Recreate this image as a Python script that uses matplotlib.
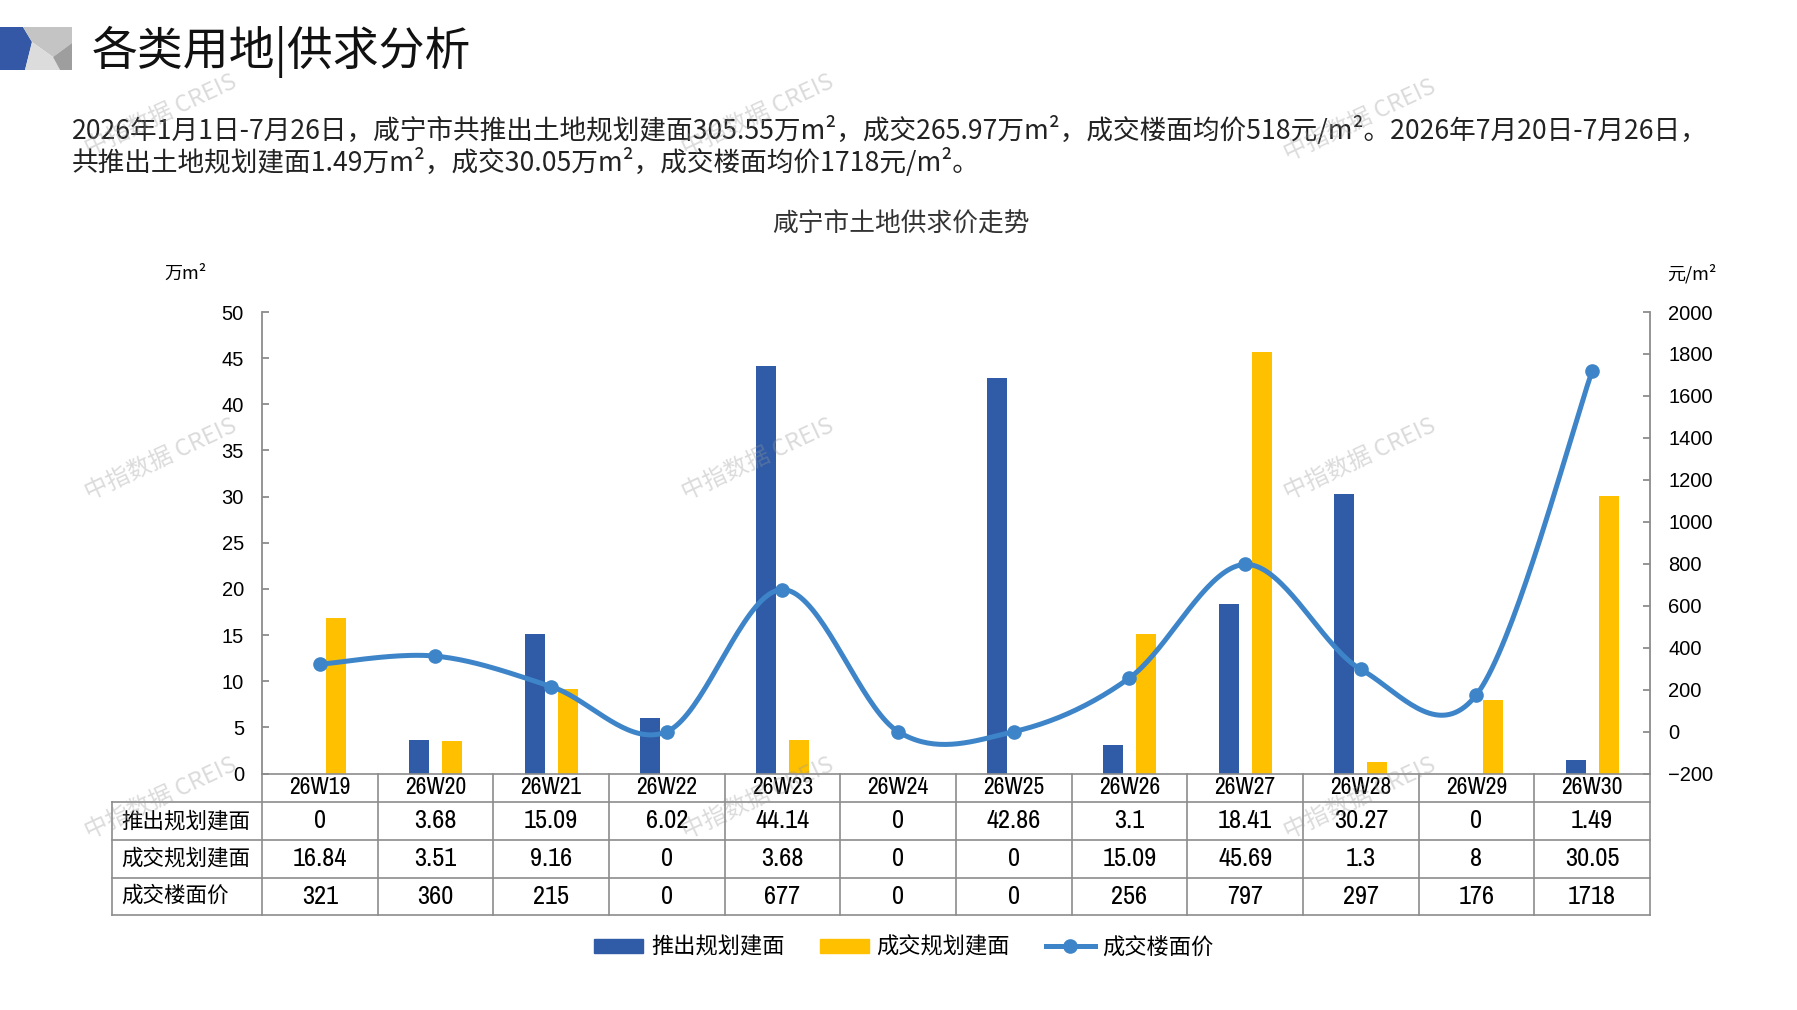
import numpy as np
import matplotlib
matplotlib.use("Agg")
import matplotlib.pyplot as plt
import matplotlib.transforms as mtransforms
from matplotlib import font_manager
from matplotlib.patches import Polygon, Patch
from matplotlib.lines import Line2D

# data
weeks = ["26W19", "26W20", "26W21", "26W22", "26W23", "26W24",
         "26W25", "26W26", "26W27", "26W28", "26W29", "26W30"]
supply = [0, 3.68, 15.09, 6.02, 44.14, 0, 42.86, 3.1, 18.41, 30.27, 0, 1.49]
deal = [16.84, 3.51, 9.16, 0, 3.68, 0, 0, 15.09, 45.69, 1.3, 8, 30.05]
price = [321, 360, 215, 0, 677, 0, 0, 256, 797, 297, 176, 1718]
row_names = ["推出规划建面", "成交规划建面", "成交楼面价"]
left_ticks = np.arange(0, 51, 5)
right_ticks = np.arange(-200, 2001, 200)

BLUE = "#2F5BA7"
YELLOW = "#FFC000"
LINE = "#3D85C8"
GRID = "#8C8C8C"

names = sorted({f.name for f in font_manager.fontManager.ttflist})
narrow_fonts = [n for n in names if "Narrow" in n or "Condensed" in n]
NARROW = narrow_fonts[0] if narrow_fonts else "Liberation Sans"
NUM_SIZE = 19 if narrow_fonts else 17
CJK = ["Noto Sans CJK SC", "DejaVu Sans"]
plt.rcParams["font.family"] = CJK


def smooth(xs, ys, n=40):
    # excel-like smoothed line (catmull-rom bezier)
    p = np.column_stack([xs, ys]).astype(float)
    out = []
    for i in range(len(p) - 1):
        p0 = p[i - 1] if i > 0 else p[i]
        p1, p2 = p[i], p[i + 1]
        p3 = p[i + 2] if i + 2 < len(p) else p[i + 1]
        c1 = p1 + (p2 - p0) / 6
        c2 = p2 - (p3 - p1) / 6
        t = np.linspace(0, 1, n)[:, None]
        seg = (1 - t) ** 3 * p1 + 3 * (1 - t) ** 2 * t * c1 + 3 * (1 - t) * t ** 2 * c2 + t ** 3 * p2
        out.append(seg if i == 0 else seg[1:])
    out = np.vstack(out)
    return out[:, 0], out[:, 1]


W, H = 1797, 1010
fig = plt.figure(figsize=(W / 100, H / 100), dpi=100)

ax_l, ax_r, ax_t, ax_b = 262, 1650, 312, 773.6
ax = fig.add_axes([ax_l / W, 1 - ax_b / H, (ax_r - ax_l) / W, (ax_b - ax_t) / H])
ax2 = ax.twinx()

x = np.arange(len(weeks))
ax.bar(x - 0.142, supply, 0.173, color=BLUE, zorder=2)
ax.bar(x + 0.142, deal, 0.173, color=YELLOW, zorder=2)
sx, sy = smooth(x, price)
ax2.plot(sx, sy, color=LINE, lw=3.6, solid_capstyle="round", zorder=3)
ax2.plot(x, price, "o", ms=9.5, color=LINE, zorder=4)

ax.set_xlim(-0.5, len(weeks) - 0.5)
ax.set_ylim(0, 50)
ax2.set_ylim(-200, 2000)
ax.set_xticks([])
ax.set_yticks(left_ticks)
ax2.set_yticks(right_ticks)

for a in (ax, ax2):
    for s in a.spines.values():
        s.set_visible(False)
    a.tick_params(axis="y", direction="in", length=5, width=1.3, color=GRID,
                  labelsize=14.5, pad=13)
    for lab in a.get_yticklabels():
        lab.set_fontfamily("Liberation Sans")
ax.spines["left"].set_visible(True)
ax.spines["left"].set_color(GRID)
ax.spines["left"].set_linewidth(1.3)
ax2.spines["right"].set_visible(True)
ax2.spines["right"].set_color(GRID)
ax2.spines["right"].set_linewidth(1.3)

# data table under the plot
trans = mtransforms.blended_transform_factory(ax.transData, ax.transAxes)
ah = ax_b - ax_t
rows_px = [773.6, 802, 840, 877.5, 914.5]
ry = [(ax_b - v) / ah for v in rows_px]
lab_left = -0.5 - 150 / ((ax_r - ax_l) / len(weeks))
kw = dict(transform=trans, clip_on=False, color=GRID, lw=1.2)
ax.add_line(Line2D([-0.5, 11.5], [ry[0], ry[0]], **kw))
for yv in ry[1:]:
    ax.add_line(Line2D([lab_left, 11.5], [yv, yv], **kw))
for k in range(len(weeks) + 1):
    ax.add_line(Line2D([k - 0.5, k - 0.5], [ry[0], ry[-1]], **kw))
ax.add_line(Line2D([lab_left, lab_left], [ry[1], ry[-1]], **kw))

table_rows = [[f"{v:g}" for v in supply], [f"{v:g}" for v in deal], [str(v) for v in price]]
for i, w in enumerate(weeks):
    ax.text(i, (ry[0] + ry[1]) / 2, w, transform=trans, ha="center", va="center",
            fontsize=NUM_SIZE - 2, family=NARROW)
for r, (name, vals) in enumerate(zip(row_names, table_rows)):
    ym = (ry[r + 1] + ry[r + 2]) / 2
    ax.text(lab_left + 0.08, ym, name, transform=trans, ha="left", va="center",
            fontsize=15.5, family=CJK)
    for i, v in enumerate(vals):
        ax.text(i, ym, v, transform=trans, ha="center", va="center",
                fontsize=NUM_SIZE, family=NARROW)

# legend
handles = [Patch(color=BLUE), Patch(color=YELLOW),
           Line2D([], [], color=LINE, lw=3.6, marker="o", ms=9.5)]
fig.legend(handles, row_names, loc="center", bbox_to_anchor=(0.503, 1 - 947 / H),
           ncol=3, frameon=False, fontsize=16, handlelength=2.2, handletextpad=0.35,
           columnspacing=1.6, handleheight=0.6)

# header, texts and watermark in pixel coordinates
ov = fig.add_axes([0, 0, 1, 1], zorder=5)
ov.set_xlim(0, W)
ov.set_ylim(H, 0)
ov.axis("off")

ov.add_patch(Polygon([(0, 27), (23, 27), (32, 42), (25, 70), (0, 70)], color="#3457A6", lw=0))
ov.add_patch(Polygon([(23, 27), (72, 27), (72, 43), (53, 57), (32, 42)], color="#C4C4C4", lw=0))
ov.add_patch(Polygon([(32, 42), (53, 57), (60, 70), (25, 70)], color="#DCDCDC", lw=0))
ov.add_patch(Polygon([(53, 57), (72, 43), (72, 70), (60, 70)], color="#9E9E9E", lw=0))

ov.text(92, 52, "各类用地|供求分析", fontsize=33, ha="left", va="center", color="#111111")
ov.text(72, 130, "2026年1月1日-7月26日，咸宁市共推出土地规划建面305.55万m²，成交265.97万m²，"
        "成交楼面均价518元/m²。2026年7月20日-7月26日，",
        fontsize=19.2, ha="left", va="center", color="#222222")
ov.text(72, 162, "共推出土地规划建面1.49万m²，成交30.05万m²，成交楼面均价1718元/m²。",
        fontsize=19.2, ha="left", va="center", color="#222222")
ov.text(901, 225, "咸宁市土地供求价走势", fontsize=18.5, ha="center", va="center", color="#333333")
ov.text(164, 274, "万m²", fontsize=13, ha="left", va="center")
ov.text(1667, 274, "元/m²", fontsize=13, ha="left", va="center")

for wx, wy in [(161, 115), (758, 115), (1360, 120), (161, 459), (758, 459),
               (1360, 459), (161, 798), (758, 798), (1360, 798)]:
    ov.text(wx, wy, "中指数据 CREIS", fontsize=17, rotation=25, ha="center", va="center",
            color="#999999", alpha=0.35, rotation_mode="anchor")

fig.savefig("out.png", dpi=100)
